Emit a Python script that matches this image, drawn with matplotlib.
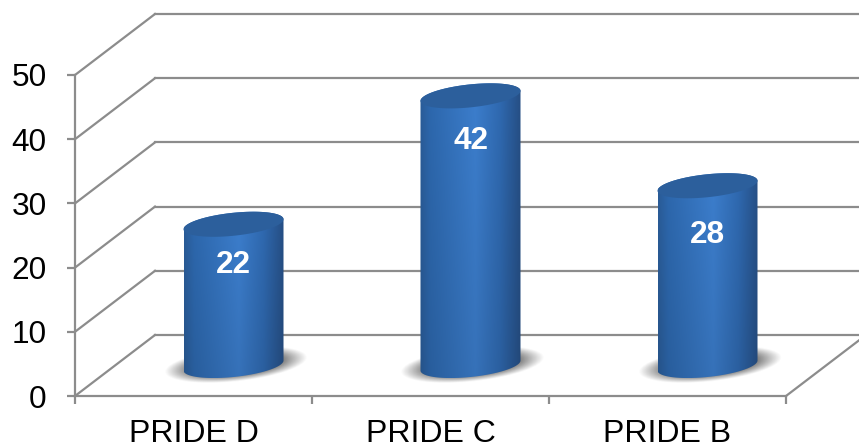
import numpy as np
import matplotlib
matplotlib.use("Agg")
import matplotlib.pyplot as plt
from matplotlib.colors import LinearSegmentedColormap
from matplotlib.patches import Polygon

plt.rcParams['font.family'] = ['Liberation Sans', 'DejaVu Sans']

categories = ["PRIDE D", "PRIDE C", "PRIDE B"]
values = [22, 42, 28]
y_ticks = [0, 10, 20, 30, 40, 50]

W, H = 859, 448
LEFT, RIGHT, BOTTOM, TOP = 75, 786, 396, 75   # plot box in pixels
DEPTH_X, DEPTH_Y = 80, 61                     # depth of the 3D box in pixels
GRID = "#8c8c8c"
label_drop = [41, 45, 49]                     # value label distance below the lid, pixels

fig = plt.figure(figsize=(W / 100, H / 100), dpi=100, facecolor="white")
ax = fig.add_axes([LEFT / W, 1 - BOTTOM / H, (RIGHT - LEFT) / W, (BOTTOM - TOP) / H])
ax.set_facecolor("none")

# pixel sizes of one data unit, used to shift things into the depth of the box
ux = (RIGHT - LEFT) / len(categories)
uy = (BOTTOM - TOP) / y_ticks[-1]
dx, dy = DEPTH_X / ux, DEPTH_Y / uy

# walls and floor
for t in y_ticks:
    ax.plot([0, dx], [t, t + dy], color=GRID, lw=1.6, clip_on=False, zorder=1)
    ax.plot([dx, (W - LEFT) / ux], [t + dy, t + dy], color=GRID, lw=1.6, clip_on=False, zorder=1)
ax.plot([len(categories), len(categories) + dx], [0, dy], color=GRID, lw=1.6, clip_on=False, zorder=1)

# cylinder colours: dark edges, bright band a little right of centre
side_cmap = LinearSegmentedColormap.from_list(
    "side", [(0, "#2a5c98"), (0.1, "#2d68ae"), (0.55, "#3c7ecd"), (0.8, "#2f69b0"), (1, "#264f85")])

t_par = np.linspace(0, 2 * np.pi, 200)
ell_x = 50 * np.cos(t_par)
ell_y = 5 * np.cos(t_par) + 11.5 * np.sin(t_par)  # tilted, up on the right


def ellipse_points(cx, val, start=0.0, stop=2 * np.pi):
    mask = (t_par >= start) & (t_par <= stop)
    return np.column_stack([cx + ell_x[mask] / ux, val + ell_y[mask] / uy])


for i, (name, val) in enumerate(zip(categories, values)):
    cx = i + 0.5 + dx / 2
    base = dy / 2
    top = base + val

    # soft floor shadow
    sx, sy = np.meshgrid(np.linspace(-80, 80, 200), np.linspace(-30, 30, 80))
    rr = np.sqrt((sx / 68) ** 2 + ((sy - 0.1 * sx) / 16) ** 2)
    shade = np.zeros(sx.shape + (4,))
    shade[..., :3] = 0.3
    shade[..., 3] = 0.8 * np.clip((1.05 - rr) / 0.4, 0, 1)
    ax.imshow(shade, extent=[cx + 2 / ux - 80 / ux, cx + 2 / ux + 80 / ux,
                             base - 30 / uy, base + 30 / uy],
              origin="lower", aspect="auto", zorder=2, interpolation="bilinear")

    # body: horizontal shading, slightly darker going down
    xs = np.linspace(0, 1, 200)
    shades = side_cmap(xs)[:, :3]
    fade = np.linspace(0.9, 1.0, 100)[:, None, None]
    body_img = shades[None, :, :] * fade
    outline = np.vstack([ellipse_points(cx, base, np.pi, 2 * np.pi),
                         ellipse_points(cx, top, 0, np.pi)])
    im = ax.imshow(body_img, extent=[cx - 50 / ux, cx + 50 / ux, base - 13 / uy, top + 13 / uy],
                   origin="lower", aspect="auto", zorder=3, interpolation="bilinear")
    body = Polygon(outline, closed=True, transform=ax.transData, fc="none", ec="none")
    ax.add_patch(body)
    im.set_clip_path(body)

    # lid
    ax.add_patch(Polygon(ellipse_points(cx, top), closed=True, fc="#2c5f9c", ec="none", zorder=4))

    ax.annotate(str(val), (cx, top), xytext=(0, -label_drop[i] * 0.72), textcoords="offset points",
                ha="center", va="center", color="white", fontsize=22.7, fontweight="bold", zorder=5)

ax.set_xlim(0, len(categories))
ax.set_ylim(y_ticks[0], y_ticks[-1])

for side in ("top", "right"):
    ax.spines[side].set_visible(False)
for side in ("left", "bottom"):
    ax.spines[side].set_color(GRID)
    ax.spines[side].set_linewidth(1.6)
    ax.spines[side].set_zorder(1)

ax.set_yticks(y_ticks)
ax.set_xticks(range(len(categories) + 1))
ax.set_xticklabels([])
ax.set_xticks(np.arange(len(categories)) + 0.5, categories, minor=True)
ax.tick_params(axis="both", which="major", color=GRID, width=1.6, length=5.5, labelsize=22.7, pad=3)
ax.tick_params(axis="y", which="major", pad=15)
ax.tick_params(axis="x", which="minor", length=0, labelsize=23, pad=16.5)

fig.savefig("out.png", dpi=100)
